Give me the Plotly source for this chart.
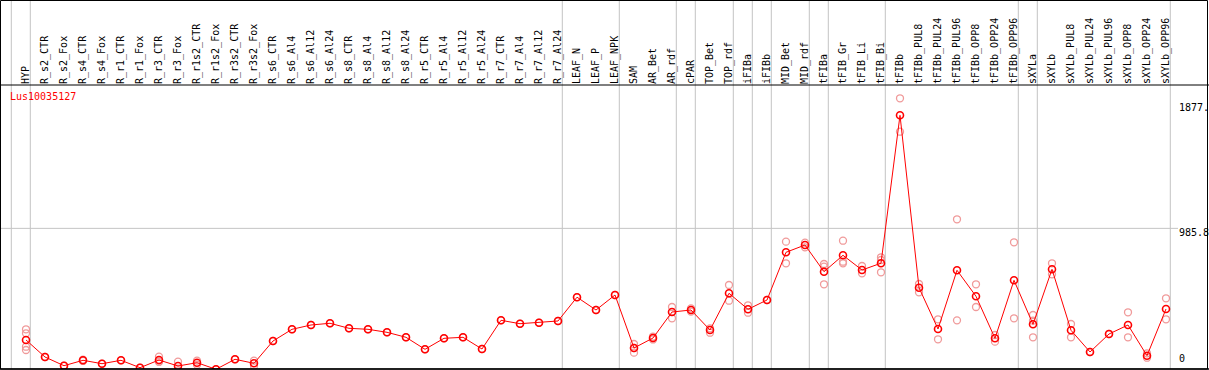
import plotly.graph_objects as go

labels = ["HYP", "R_s2_CTR", "R_s2_Fox", "R_s4_CTR", "R_s4_Fox", "R_r1_CTR", "R_r1_Fox",
          "R_r3_CTR", "R_r3_Fox", "R_r1s2_CTR", "R_r1s2_Fox", "R_r3s2_CTR", "R_r3s2_Fox",
          "R_s6_CTR", "R_s6_Al4", "R_s6_Al12", "R_s6_Al24", "R_s8_CTR", "R_s8_Al4",
          "R_s8_Al12", "R_s8_Al24", "R_r5_CTR", "R_r5_Al4", "R_r5_Al12", "R_r5_Al24",
          "R_r7_CTR", "R_r7_Al4", "R_r7_Al12", "R_r7_Al24", "LEAF_N", "LEAF_P", "LEAF_NPK",
          "SAM", "AR_Bet", "AR_rdf", "cPAR", "TOP_Bet", "TOP_rdf", "iFIBa", "iFIBb",
          "MID_Bet", "MID_rdf", "tFIBa", "tFIB_Gr", "tFIB_Li", "tFIB_Bi", "tFIBb",
          "tFIBb_PUL8", "tFIBb_PUL24", "tFIBb_PUL96", "tFIBb_OPP8", "tFIBb_OPP24",
          "tFIBb_OPP96", "sXYLa", "sXYLb", "sXYLb_PUL8", "sXYLb_PUL24", "sXYLb_PUL96",
          "sXYLb_OPP8", "sXYLb_OPP24", "sXYLb_OPP96"]

means = [190.3, 69.1, 7.1, 45.6, 21.4, 45.6, -7.1, 47.7, 5.0, 28.5, -18.5, 52.7, 24.2,
         183.1, 266.5, 297.2, 309.3, 273.6, 266.5, 245.1, 209.5, 124.0, 202.4, 209.5, 126.1,
         330.6, 306.4, 313.5, 325.7, 495.3, 404.0, 510.9,
         133.3, 204.5, 389.8, 404.0, 261.5, 523.0, 409.0, 475.3,
         815.2, 867.2, 677.0, 793.8, 689.1, 737.5, 1791.5,
         562.9, 268.7, 686.9, 501.7, 202.4, 615.7,
         302.1, 694.1, 259.4, 104.8, 233.0, 297.2, 78.4, 411.2]

replicates = [
    [266.5, 238.0, 142.5, 119.0], [69.1], [7.1], [50.0, 41.0], [21.4], [45.6], [-7.1],
    [71.3, 35.6, 35.6], [35.6, -26.0], [42.8, 14.0], [-18.5], [52.7], [42.8, 5.0],
    [183.1], [266.5], [297.2], [309.3], [273.6], [266.5], [245.1], [209.5], [124.0],
    [202.4], [209.5], [126.1], [330.6], [306.4], [313.5], [325.7], [495.3], [404.0], [510.9],
    [161.8, 133.3, 99.8], [215.0, 194.0], [425.4, 344.9], [415.0, 393.0], [273.6, 242.3],
    [582.2, 470.3], [437.5, 384.8], [475.3],
    [890.8, 736.8], [883.6, 850.8], [712.6, 731.8, 587.2], [897.9, 736.8, 748.2],
    [717.6, 665.6], [779.6, 672.7, 760.3], [1912.6, 1674.6],
    [589.3, 530.2], [337.8, 195.3], [1050.4, 330.6], [587.2, 425.4], [225.9, 178.2],
    [886.5, 344.9],
    [368.4, 328.3, 209.5], [736.8, 658.4], [304.3, 209.5], [104.8], [233.0],
    [387.7, 209.5], [95.5, 64.1], [487.4, 337.8]]

group_breaks = [-1, 0, 28, 31, 34, 35, 37, 38, 39, 41, 42, 45, 52, 53, 60]
gene_id = "Lus10035127"
ytick_vals = [1877.0, 985.8, 0.0]
ytick_text = ["1877.", "985.8", "0"]

W, H = 1209, 370
L, R, T, B = 1, 38, 85, 1
plot_h = H - T - B  # 284
pw = W - L - R
mono = "DejaVu Sans Mono"

idx = list(range(len(labels)))
rep_x, rep_y = [], []
for i, vals in enumerate(replicates):
    for v in vals:
        rep_x.append(i)
        rep_y.append(v)

fig = go.Figure()
fig.add_trace(go.Scatter(
    x=rep_x, y=rep_y, mode="markers",
    marker=dict(symbol="circle-open", size=7, color="#f09a9a", line=dict(width=1.3, color="#f09a9a")),
    hoverinfo="skip", showlegend=False))
fig.add_trace(go.Scatter(
    x=idx, y=means, mode="lines+markers",
    line=dict(color="#ff0000", width=1),
    marker=dict(symbol="circle-open", size=7, color="#ff0000", line=dict(width=1.6, color="#ff0000")),
    showlegend=False))

shapes = []
top_paper = (H - B) / plot_h
for b in group_breaks:
    shapes.append(dict(type="line", xref="x", yref="paper", x0=b + 0.226, x1=b + 0.226,
                       y0=0, y1=top_paper, line=dict(color="#c4c4c4", width=1), layer="below"))
# horizontal grid line at middle tick
shapes.append(dict(type="line", xref="paper", yref="y", x0=0, x1=(1178 - L) / pw,
                   y0=ytick_vals[1], y1=ytick_vals[1], line=dict(color="#c4c4c4", width=1), layer="below"))
# outer frame and header separator
shapes.append(dict(type="line", xref="paper", yref="paper", x0=-1 / pw, x1=(W - L) / pw,
                   y0=1, y1=1, line=dict(color="black", width=1)))
shapes.append(dict(type="line", xref="paper", yref="paper", x0=-1 / pw, x1=(W - L) / pw,
                   y0=0, y1=0, line=dict(color="black", width=1.5)))
shapes.append(dict(type="rect", xref="paper", yref="paper", x0=-0.5 / pw, x1=(W - L - 1.5) / pw,
                   y0=0, y1=(H - B - 0.5) / plot_h, line=dict(color="black", width=1)))

annotations = [dict(text=gene_id, xref="paper", yref="paper", x=(8 - L) / pw, y=(H - B - 89) / plot_h,
                    xanchor="left", yanchor="top", showarrow=False,
                    font=dict(family=mono, size=10, color="#ff0000"))]
for v, t in zip(ytick_vals, ytick_text):
    if v == 0:
        annotations.append(dict(text=t, xref="paper", yref="paper", x=(1177 - L) / pw, y=0.01,
                                xanchor="left", yanchor="bottom", showarrow=False,
                                font=dict(family=mono, size=10, color="black")))
    else:
        annotations.append(dict(text=t, xref="paper", yref="y", x=(1177 - L) / pw, y=v,
                                xanchor="left", yanchor="top", showarrow=False, yshift=3,
                                font=dict(family=mono, size=10, color="black")))

fig.update_layout(
    width=W, height=H, margin=dict(l=L, r=R, t=T, b=B, pad=0),
    paper_bgcolor="white", plot_bgcolor="white",
    xaxis=dict(range=[-1.316, 60.263], side="top", tickmode="array", tickvals=idx, ticktext=labels,
               tickangle=-90, showgrid=False, zeroline=False, showline=False, ticks="",
               tickfont=dict(family=mono, size=10, color="black")),
    yaxis=dict(range=[-16.4, 2007.4], showgrid=False, zeroline=False, showticklabels=False),
    shapes=shapes, annotations=annotations,
)

fig.write_html("out.html", config={"displayModeBar": False},
               post_script="document.body.style.margin='0';document.body.style.overflow='hidden';")
